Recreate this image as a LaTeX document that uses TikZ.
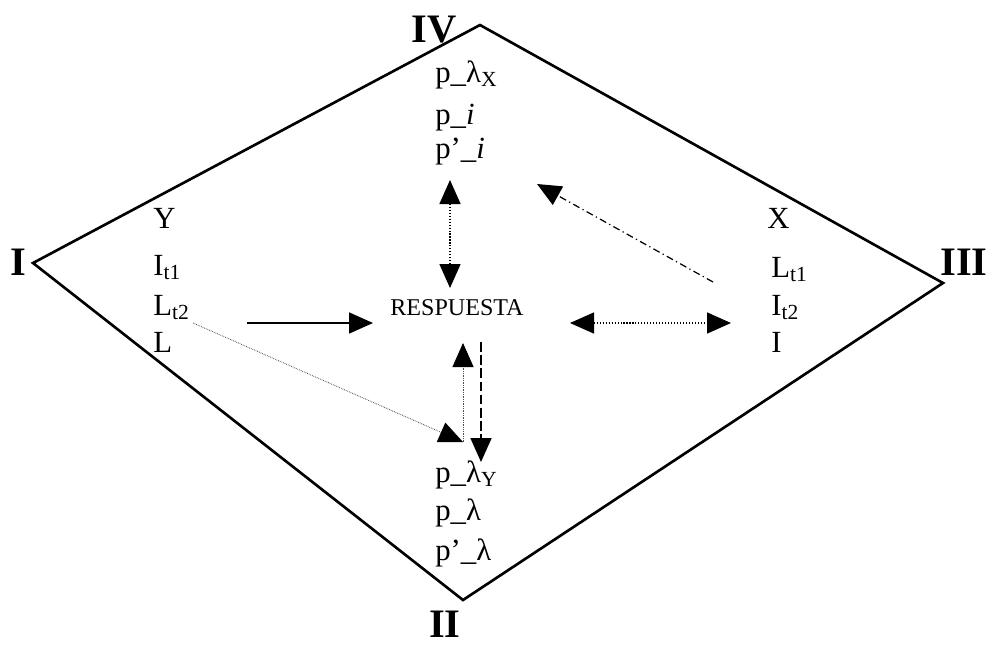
\documentclass[tikz,border=0pt]{standalone}
\usepackage{fontspec}
\setmainfont{Liberation Serif}
\usetikzlibrary{arrows.meta}

\begin{document}
\begin{tikzpicture}[x=0.2mm, y=-0.2mm,
  txt/.style={anchor=base west, inner sep=0pt, font=\fontsize{17.5}{20}\selectfont},
  corner/.style={anchor=base, inner sep=0pt, font=\fontsize{23}{26}\selectfont\bfseries},
  resp/.style={anchor=base, inner sep=0pt, font=\fontsize{13.7}{16}\selectfont},
  frame/.style={line width=1.5pt, line join=miter},
  tip/.style={-{Triangle[length=4.8mm,width=4.2mm,black]}},
  twotips/.style={{Triangle[length=4.8mm,width=4.2mm]}-{Triangle[length=4.8mm,width=4.2mm]}},
  dots/.style={line width=0.9pt, dash pattern=on 0.6pt off 1.1pt},
  finedots/.style={line width=0.5pt, black!70, dash pattern=on 0.4pt off 0.6pt},
  dashes/.style={line width=1pt, dash pattern=on 5.5pt off 2pt},
  dashdot/.style={line width=0.7pt, dash pattern=on 4pt off 2pt on 0.7pt off 2pt}
]
\useasboundingbox (0,0) rectangle (987,647);

% the diamond
\coordinate (vI) at (33,263);
\coordinate (vII) at (463,600);
\coordinate (vIII) at (943,283);
\coordinate (vIV) at (480,25);
\draw[frame] (vI) -- (vIV) -- (vIII) -- (vII) -- cycle;

\node[corner] (nI) at (18,275) {I};
\node[corner] (nII) at (445,637) {II};
\node[corner] (nIII) at (964,275) {III};
\node[corner] (nIV) at (434,42) {IV};

% top group
\node[txt] (pxl) at (435,82) {p\_λ\textsubscript{X}};
\node[txt] (pi) at (435,124) {p\_\textit{i}};
\node[txt] (ppi) at (435,158) {p’\_\textit{i}};

% left group
\node[txt] (y) at (153,228) {Y};
\node[txt] (it1) at (153,275) {I\textsubscript{t1}};
\node[txt] (lt2) at (153,315) {L\textsubscript{t2}};
\node[txt] (l) at (153,352) {L};

% right group
\node[txt] (x) at (767,228) {X};
\node[txt] (lt1) at (771,277) {L\textsubscript{t1}};
\node[txt] (it2) at (771,315) {I\textsubscript{t2}};
\node[txt] (i) at (771,352) {I};

% bottom group
\node[txt] (pyl) at (435,482) {p\_λ\textsubscript{Y}};
\node[txt] (pl) at (435,520) {p\_λ};
\node[txt] (ppl) at (435,560) {p’\_λ};

\node[resp] (resp) at (457,315) {RESPUESTA};

% arrow ends
\coordinate (upA) at (450,180);
\coordinate (upB) at (450,288);
\coordinate (inA) at (247,323);
\coordinate (inB) at (373,323);
\coordinate (rA) at (570,323);
\coordinate (rB) at (731,323);
\coordinate (ddA) at (713,282);
\coordinate (ddB) at (537,184);
\coordinate (ltA) at (193,323);
\coordinate (ltB) at (463,442);
\coordinate (vtB) at (463,343);
\coordinate (dsA) at (481,342);
\coordinate (dsB) at (481,462);

\draw[twotips, dots] (upA) -- (upB);
\draw[tip, line width=1pt] (inA) -- (inB);
\draw[twotips, dots] (rA) -- (rB);
\draw[tip, dashdot] (ddA) -- (ddB);
\draw[tip, finedots] (ltA) -- (ltB);
\draw[tip, finedots] (ltB) -- (vtB);
\draw[tip, dashes] (dsA) -- (dsB);
\end{tikzpicture}
\end{document}
